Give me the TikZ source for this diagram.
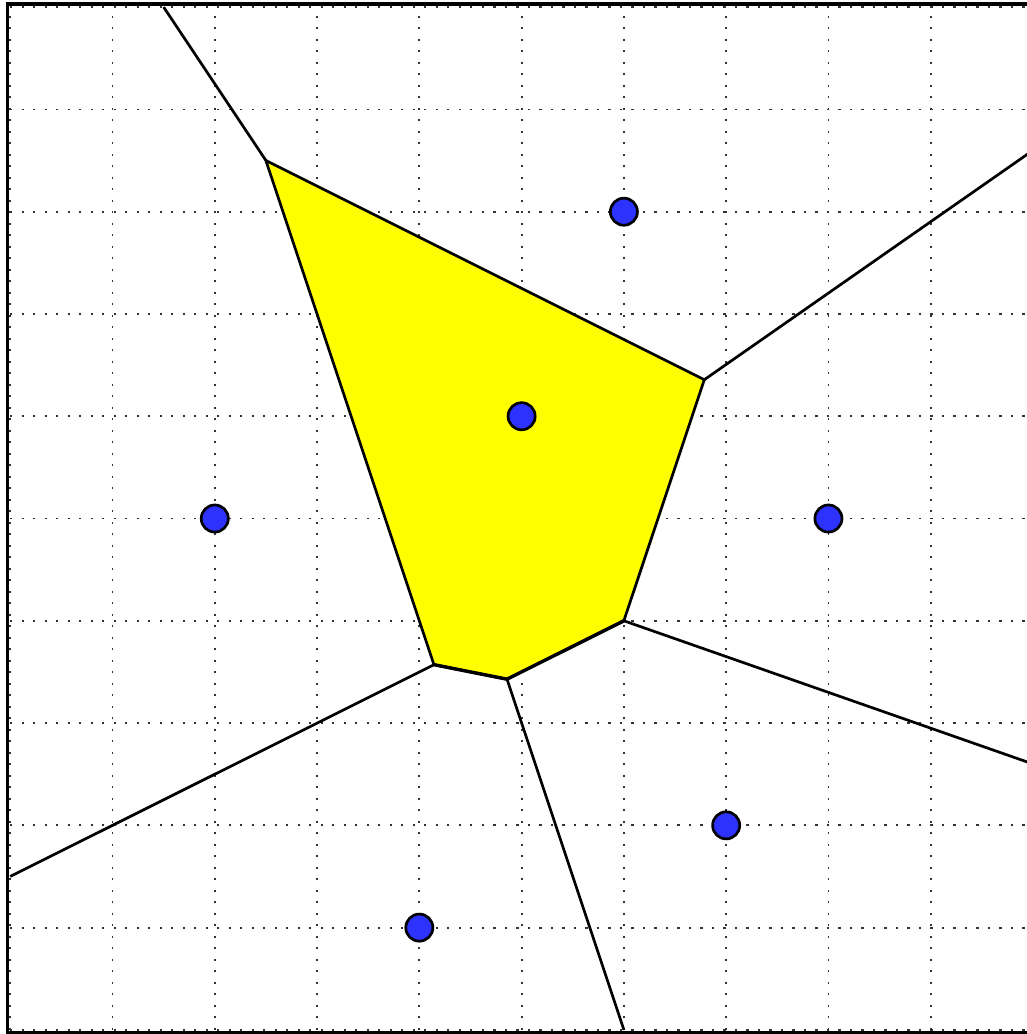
\documentclass[tikz,border=0pt]{standalone}
\usepackage{tikz}
\usetikzlibrary{calc}
\definecolor{sitefill}{RGB}{45,50,255}
\definecolor{cellfill}{RGB}{255,255,0}
\tikzset{
  gridline/.style={line width=0.5pt,dash pattern=on 0.6pt off 2.6pt,black!80},
  frameline/.style={line width=0.9pt},
  vedge/.style={line width=0.75pt,line join=round},
  site/.style={circle,draw,fill=sitefill,line width=0.75pt,inner sep=0pt,minimum size=2.65mm},
}

\begin{document}
\begin{tikzpicture}
  \useasboundingbox (-0.1,-0.04) rectangle (9.94,10.07);
  \clip (-0.1,-0.04) rectangle (9.94,10.07);
  \draw[gridline] (0,0) grid (10,10);
  % vertices of the cell
  \coordinate (v1) at (2.5,8.5);
  \coordinate (v2) at (6.786,6.357);
  \coordinate (v3) at (6,4);
  \coordinate (v4) at (4.857,3.429);
  \coordinate (v5) at (4.143,3.571);
  % open ends
  \coordinate (o1) at (1.5,10);
  \coordinate (o2) at (10,8.6);
  \coordinate (o3) at (10,2.6);
  \coordinate (o4) at (6,0);
  \coordinate (o5) at (0,1.5);
  \fill[cellfill] (v1) -- (v2) -- (v3) -- (v4) -- (v5) -- cycle;
  \draw[vedge] (v1) -- (v2) -- (v3) -- (v4) -- (v5) -- cycle;
  \draw[vedge,line width=0.95pt] (v3) -- (v4) -- (v5);
  \foreach \a/\b in {v1/o1,v2/o2,v3/o3,v4/o4,v5/o5}
    \draw[vedge] (\a) -- (\b);
  \draw[frameline] (-0.03,-0.03) rectangle (10.03,10.03);
  % sites
  \foreach \n/\x/\y in {sa/6/8,sb/5/6,sc/2/5,sd/8/5,se/7/2,sf/4/1}
    \node[site] (\n) at (\x,\y) {};
\end{tikzpicture}
\end{document}
